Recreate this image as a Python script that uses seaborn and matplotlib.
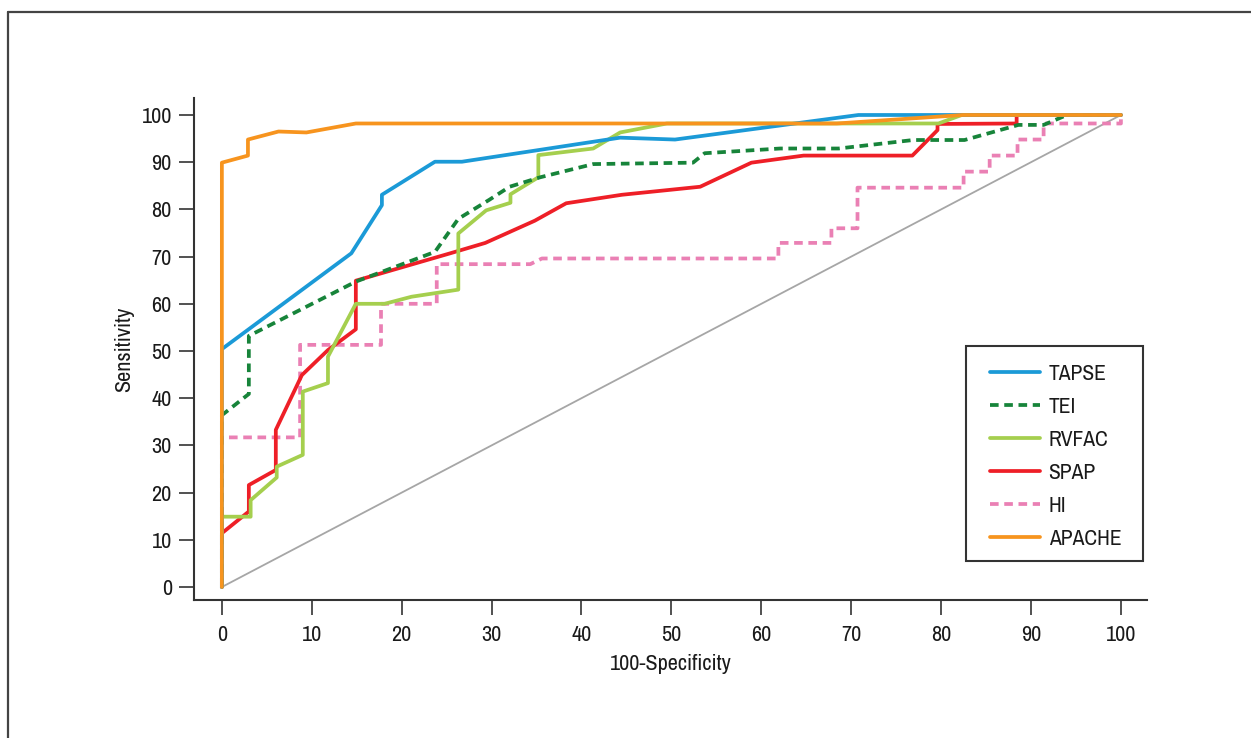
import matplotlib
matplotlib.use("Agg")
import matplotlib.pyplot as plt
from matplotlib.lines import Line2D
from matplotlib.patches import Rectangle
import seaborn as sns
import pandas as pd

# ---------------- data ----------------
series_names = ["TAPSE", "TEI", "RVFAC", "SPAP", "HI", "APACHE"]

tapse_x = [0, 0, 14.4, 17.8, 17.8, 23.7, 26.7, 44.3, 50.4, 70.8, 100]
tapse_y = [0, 50.4, 70.7, 80.9, 83.1, 90.1, 90.1, 95.2, 94.8, 100, 100]

tei_x = [0, 0, 3.0, 3.0, 14.9, 23.7, 26.3, 29.8, 32.0, 35.4, 41.3, 52.4, 53.7,
         62.1, 68.6, 76.9, 82.6, 88.6, 91.4, 94.0, 100]
tei_y = [0, 36.4, 40.9, 53.2, 64.7, 71.0, 78.0, 82.1, 84.8, 86.8, 89.6, 89.9, 91.9,
         92.9, 92.9, 94.7, 94.7, 97.9, 97.9, 100, 100]

rvfac_x = [0, 0, 3.2, 3.2, 6.1, 6.1, 9.0, 9.0, 11.8, 11.8, 14.9, 18.1, 21.1, 26.3,
           26.3, 29.4, 32.1, 32.1, 35.2, 35.2, 41.3, 44.3, 49.5, 79.7, 82.3, 100]
rvfac_y = [0, 14.9, 14.9, 18.4, 23.2, 25.5, 28.0, 41.4, 43.2, 48.8, 60.0, 60.0, 61.5, 63.0,
           74.9, 79.8, 81.4, 83.2, 86.8, 91.5, 92.9, 96.3, 98.2, 98.2, 100, 100]

spap_x = [0, 0, 3.0, 3.0, 6.0, 6.0, 8.9, 11.8, 14.9, 14.9, 25.4, 29.3, 34.8, 38.3,
          44.5, 53.2, 58.9, 64.7, 76.8, 79.6, 79.6, 88.4, 88.4, 100]
spap_y = [0, 11.4, 16.0, 21.6, 24.8, 33.3, 44.9, 50.2, 54.6, 64.9, 70.7, 72.9, 77.6, 81.3,
          83.1, 84.8, 89.9, 91.4, 91.4, 96.8, 98.1, 98.2, 100, 100]

hi_x = [0, 0, 8.7, 8.7, 17.7, 17.7, 23.9, 23.9, 34.3, 35.6, 61.9, 61.9, 67.8, 67.8,
        70.7, 70.7, 82.5, 82.5, 85.4, 85.4, 88.5, 88.5, 91.4, 91.4, 100, 100]
hi_y = [0, 31.7, 31.7, 51.3, 51.3, 60.0, 60.0, 68.4, 68.4, 69.6, 69.6, 72.9, 72.9, 76.0,
        76.0, 84.6, 84.6, 88.0, 88.0, 91.4, 91.4, 94.8, 94.8, 98.2, 98.2, 100]

apache_x = [0, 0, 2.9, 2.9, 6.3, 9.4, 14.9, 68.4, 82.4, 100]
apache_y = [0, 89.9, 91.4, 94.8, 96.5, 96.3, 98.2, 98.2, 100, 100]

ref_x = [0, 100]
ref_y = [0, 100]

x_ticks = [0, 10, 20, 30, 40, 50, 60, 70, 80, 90, 100]
y_ticks = [0, 10, 20, 30, 40, 50, 60, 70, 80, 90, 100]

# ---------------- style ----------------
colors = {
    "TAPSE": "#1b9ad7",
    "TEI": "#17843a",
    "RVFAC": "#a5cf4e",
    "SPAP": "#ee1f27",
    "HI": "#ea80b4",
    "APACHE": "#f7941e",
}
dashed = {"TEI", "HI"}
LW = 2.7
DASH = (2.3, 1.5)
W, H = 1251, 738

sns.set_theme(style="white")
plt.rcParams["font.family"] = ["Archivo Narrow", "DejaVu Sans"]
plt.rcParams["font.stretch"] = "condensed"

frames = []
for name, xs, ys in [("TAPSE", tapse_x, tapse_y), ("TEI", tei_x, tei_y),
                     ("RVFAC", rvfac_x, rvfac_y), ("SPAP", spap_x, spap_y),
                     ("HI", hi_x, hi_y), ("APACHE", apache_x, apache_y)]:
    frames.append(pd.DataFrame({"series": name, "x": xs, "y": ys}))
df = pd.concat(frames, ignore_index=True)

fig = plt.figure(figsize=(W / 100, H / 100), dpi=100)
ax = fig.add_axes([194 / W, 1 - 600 / H, (1147 - 194) / W, (600 - 98) / H])

sns.lineplot(x=ref_x, y=ref_y, ax=ax, color="#a6a6a6", linewidth=1.3,
             sort=False, estimator=None, legend=False, zorder=1)

draw_order = ["HI", "SPAP", "RVFAC", "TEI", "TAPSE", "APACHE"]
handles = {}
for i, name in enumerate(draw_order):
    sub = df[df["series"] == name]
    sns.lineplot(data=sub, x="x", y="y", ax=ax, color=colors[name], linewidth=LW,
                 sort=False, estimator=None, legend=False, zorder=2 + i)
    line = ax.get_lines()[-1]
    if name in dashed:
        line.set_dashes(DASH)
    handles[name] = Line2D([], [], color=colors[name], linewidth=LW,
                           linestyle=(0, DASH) if name in dashed else "-")

ax.set_xlim(-3.1, 102.9)
ax.set_ylim(-2.75, 103.6)
ax.set_xticks(x_ticks)
ax.set_yticks(y_ticks)
ax.set_xticklabels([str(t) for t in x_ticks])
ax.set_yticklabels([str(t) for t in y_ticks])

for s in ["top", "right"]:
    ax.spines[s].set_visible(False)
for s in ["left", "bottom"]:
    ax.spines[s].set_color("#333333")
    ax.spines[s].set_linewidth(1.5)

ax.tick_params(axis="both", which="major", direction="out", length=11, width=1.2,
               color="#333333", labelsize=16, labelcolor="#1a1a1a",
               bottom=True, left=True)
ax.tick_params(axis="x", pad=7)
ax.tick_params(axis="y", pad=5)

ax.set_xlabel("100-Specificity", fontsize=16, color="#1a1a1a")
ax.set_ylabel("Sensitivity", fontsize=16, color="#1a1a1a")
ax.xaxis.set_label_coords(0.5, -(654 - 600) / 502)
ax.yaxis.set_label_coords(-(194 - 134) / 953, 0.5)

# legend entries (frameless) + separately drawn box at the reference position
leg = ax.legend([handles[n] for n in series_names], series_names,
                loc="upper left", bbox_to_anchor=(990 / W, 1 - 364 / H),
                bbox_transform=fig.transFigure, borderaxespad=0, borderpad=0,
                frameon=False, fontsize=15.5, handlelength=2.3,
                handletextpad=0.42, labelspacing=0.6)
for t in leg.get_texts():
    t.set_color("#1a1a1a")
fig.add_artist(Rectangle((966 / W, 1 - 561 / H), (1143 - 966) / W, (561 - 346) / H,
                         transform=fig.transFigure, fill=False,
                         edgecolor="#333333", linewidth=1.5, zorder=10))

fig.add_artist(Line2D([8 / W, 1.0], [1 - 12 / H, 1 - 12 / H],
                      transform=fig.transFigure, color="#444444", linewidth=1.6))
fig.add_artist(Line2D([8 / W, 8 / W], [1 - 12 / H, 0.0],
                      transform=fig.transFigure, color="#444444", linewidth=1.6))

fig.savefig("out.png", dpi=100, facecolor="white")
